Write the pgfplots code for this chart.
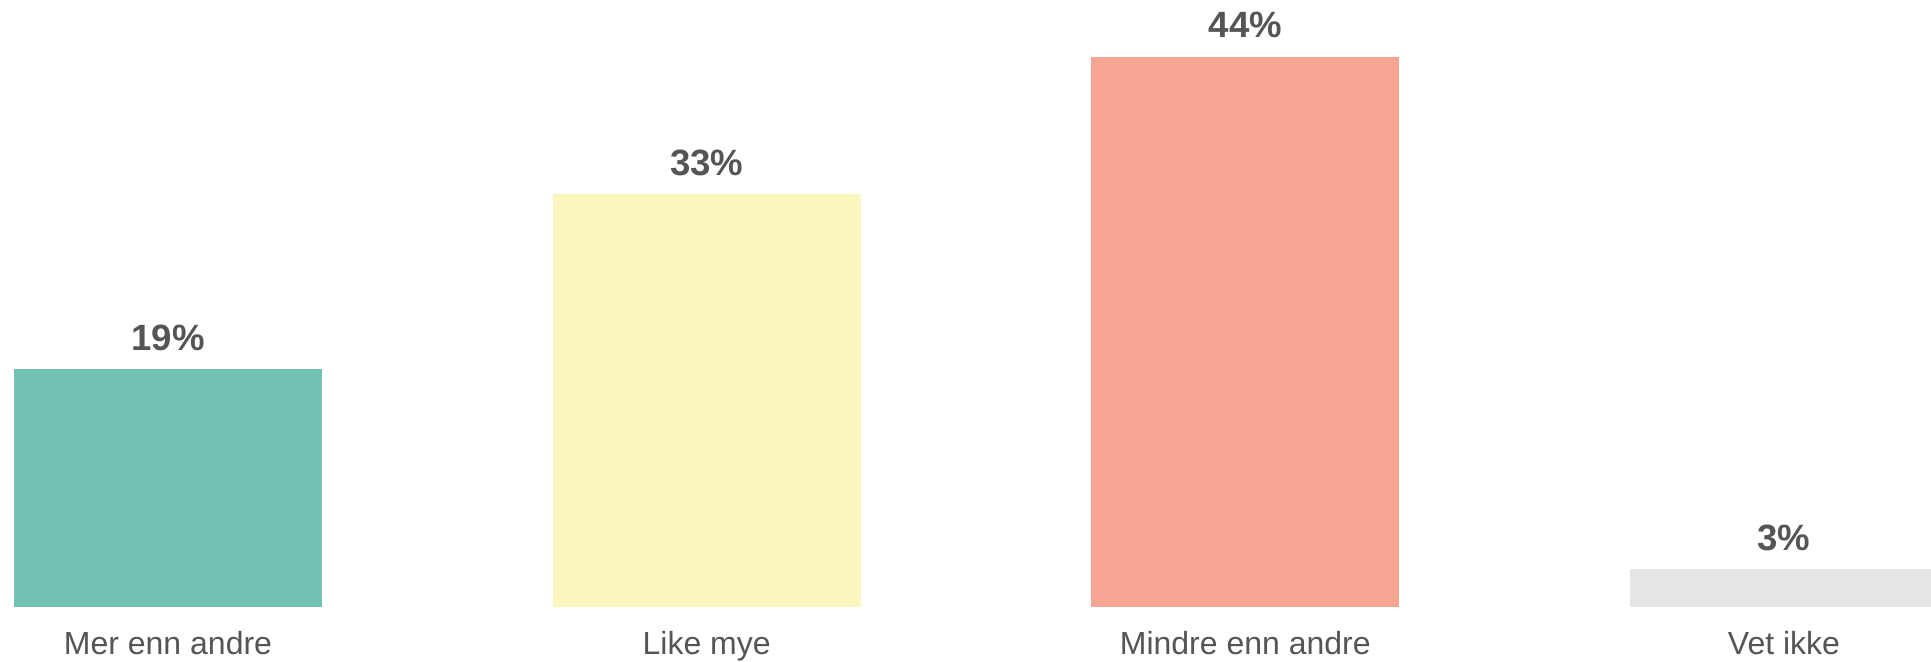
\documentclass[border=0pt]{standalone}
\usepackage{pgfplots}
\pgfplotsset{compat=1.18}
\usepackage{fontspec}
\setmainfont{Liberation Sans}
\definecolor{txt}{HTML}{555555}
\definecolor{cteal}{HTML}{72C3B4}
\definecolor{cyellow}{HTML}{FBF6BE}
\definecolor{csalmon}{HTML}{F6A594}
\definecolor{cgray}{HTML}{E6E6E6}
\begin{document}
\begin{tikzpicture}
  % 1 px of the reference = 0.5pt
  \begin{axis}[
      at={(0,0)}, anchor=south west,
      scale only axis,
      width=965.5pt, height=303.5pt,
      xmin=-0.3119, xmax=3.273,
      ymin=0, ymax=48.56,
      ybar, bar width=0.572,
      clip mode=individual,
      axis line style={draw=none},
      tick style={draw=none},
      ytick=\empty,
      xtick={0,1,2,3},
      xticklabels={Mer enn andre, Like mye, Mindre enn andre, Vet ikke},
      xticklabel style={anchor=base, yshift=-19.5pt, inner sep=0pt,
        font=\fontsize{16}{18}\selectfont, text=txt},
      /pgf/number format/assume math mode=true,
      nodes near coords={\pgfmathprintnumber{\pgfplotspointmeta}\%},
      every node near coord/.append style={anchor=base, yshift=9.5pt,
        inner sep=0pt, font=\bfseries\fontsize{18.3}{20}\selectfont, text=txt},
    ]
    \addplot[fill=cteal, draw=none, bar shift=0pt] coordinates {(0,19)};
    \addplot[fill=cyellow, draw=none, bar shift=0pt] coordinates {(1,33)};
    \addplot[fill=csalmon, draw=none, bar shift=0pt] coordinates {(2,44)};
    \addplot[fill=cgray, draw=none, bar shift=0pt] coordinates {(3,3)};
  \end{axis}
  \pgfresetboundingbox
  \useasboundingbox (0,-27.5pt) rectangle (965.5pt,303.5pt);
\end{tikzpicture}
\end{document}
